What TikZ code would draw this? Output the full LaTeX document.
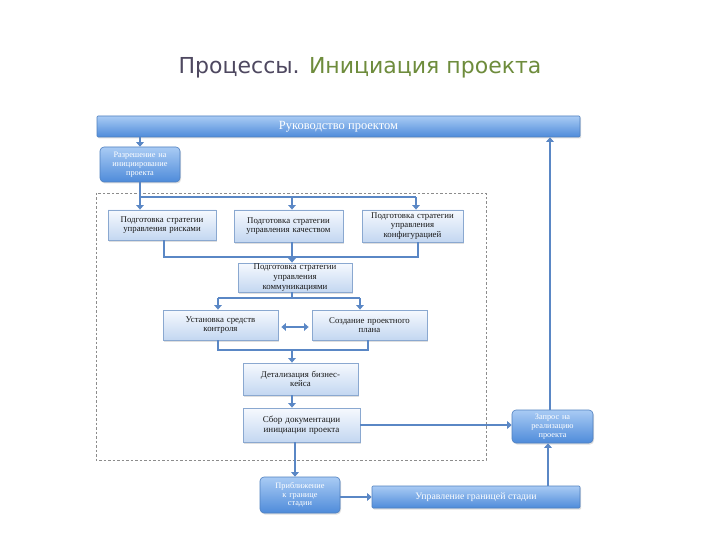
\documentclass[tikz,border=0pt]{standalone}
\usepackage{fontspec}
\setmainfont{Liberation Serif}
\newfontfamily\titlefont{DejaVu Sans}
\usetikzlibrary{arrows.meta,shadows}
\definecolor{ttlgray}{HTML}{4E4860}
\definecolor{ttlgreen}{HTML}{6E8C3C}
\definecolor{arrblue}{HTML}{5A87C5}
\definecolor{lbtop}{HTML}{F6F9FE}
\definecolor{lbbot}{HTML}{C3D7F1}
\definecolor{lbdraw}{HTML}{8AA8D0}
\definecolor{dbtop}{HTML}{A9CBF4}
\definecolor{dbbot}{HTML}{4E8BDA}
\definecolor{dbdraw}{HTML}{4F80C0}
\tikzset{
  lightbox/.style={draw=lbdraw, line width=0.8pt, top color=lbtop, bottom color=lbbot,
    inner sep=1pt, align=center, font=\fontsize{8.8}{9.6}\selectfont, text=black!90,
    drop shadow={opacity=0.25, shadow xshift=1pt, shadow yshift=-1.5pt}},
  darkbox/.style={draw=dbdraw, line width=0.6pt, top color=dbtop, bottom color=dbbot,
    rounded corners=4pt, inner sep=1pt, align=center, font=\fontsize{8.3}{8.8}\selectfont, text=white,
    drop shadow={opacity=0.25, shadow xshift=1pt, shadow yshift=-1.5pt}},
  conn/.style={draw=arrblue, line width=2.2pt},
  arr/.style={conn, -{Triangle[length=4.5pt,width=7.5pt]}},
  dblarr/.style={conn, {Triangle[length=4.5pt,width=7.5pt]}-{Triangle[length=4.5pt,width=7.5pt]}},
}
\begin{document}
\begin{tikzpicture}[x=1pt,y=-1pt]
\useasboundingbox[fill=white] (0,0) rectangle (720,540);

\node[font=\titlefont\fontsize{22}{24}\selectfont, inner sep=0pt] (title) at (360,68)
  {\textcolor{ttlgray}{Процессы.} \textcolor{ttlgreen}{Инициация проекта}};

% dashed frame
\draw[draw=black!45, line width=0.9pt, dash pattern=on 2.5pt off 2pt] (96,193) rectangle (486,460);

% nodes
\node[darkbox, rounded corners=1pt, minimum width=483pt, minimum height=21pt, font=\fontsize{12.5}{13}\selectfont] (top) at (338.5,126.5) {Руководство проектом};
\node[darkbox, minimum width=80pt, minimum height=35pt, text width=76pt] (auth) at (140,164.5) {Разрешение на\\инициирование\\проекта};

\node[lightbox, minimum width=108pt, minimum height=30pt, text width=104pt] (risk) at (162,225) {Подготовка стратегии\\управления рисками\\[4pt]};
\node[lightbox, minimum width=109pt, minimum height=32pt, text width=105pt] (qual) at (288.5,226) {Подготовка стратегии\\управления качеством\\[4pt]};
\node[lightbox, minimum width=101pt, minimum height=32pt, text width=97pt] (conf) at (412.5,226) {Подготовка стратегии\\управления\\конфигурацией};
\node[lightbox, minimum width=114pt, minimum height=29pt, text width=110pt] (comm) at (295,277.5) {Подготовка стратегии\\управления\\коммуникациями};
\node[lightbox, minimum width=115pt, minimum height=30pt, text width=111pt] (ctrl) at (220.5,325) {Установка средств\\контроля\\[4pt]};
\node[lightbox, minimum width=115pt, minimum height=30pt, text width=111pt] (plan) at (369.5,325) {Создание проектного\\плана\\[4pt]};
\node[lightbox, minimum width=115pt, minimum height=32pt, text width=111pt] (det) at (300.5,379) {Детализация бизнес-\\кейса\\[4pt]};
\node[lightbox, minimum width=117pt, minimum height=34pt, text width=113pt, font=\fontsize{9}{10}\selectfont] (doc) at (301.5,425) {Сбор документации\\инициации проекта\\[4pt]};

\node[darkbox, minimum width=81pt, minimum height=33pt, text width=77pt] (req) at (552.5,426.5) {Запрос на\\реализацию\\проекта};
\node[darkbox, minimum width=80pt, minimum height=36pt, text width=76pt] (near) at (300,495) {Приближение\\к границе\\стадии};
\node[darkbox, rounded corners=1pt, minimum width=208pt, minimum height=22pt, font=\fontsize{9.8}{10}\selectfont] (wide) at (476,497) {Управление границей стадии};

% helper coordinates
\coordinate (s1) at (140,197); \coordinate (s2) at (292,197); \coordinate (s3) at (416,197);
\coordinate (m1) at (164,257); \coordinate (m2) at (292,257); \coordinate (m3) at (418,257);
\coordinate (n1) at (218,298); \coordinate (n2) at (292,298); \coordinate (n3) at (360,298);
\coordinate (p1) at (218,350); \coordinate (p2) at (292,350); \coordinate (p3) at (368,350);
\coordinate (rx) at (550,0); \coordinate (wx) at (548,0); \coordinate (dx) at (295,0);

% connectors
\draw[arr] (top.south -| auth) -- (auth.north);
\draw[conn] (auth.south) -- (s1) -- (s3);
\draw[arr] (s1) -- (s1 |- risk.north);
\draw[arr] (s2) -- (s2 |- qual.north);
\draw[arr] (s3) -- (s3 |- conf.north);

\draw[conn] (risk.south -| m1) -- (m1) -- (m3) -- (conf.south -| m3);
\draw[conn] (qual.south -| m2) -- (m2);
\draw[arr] (m2) -- (comm.north -| m2);

\draw[conn] (comm.south -| n2) -- (n2);
\draw[conn] (n1) -- (n3);
\draw[arr] (n1) -- (n1 |- ctrl.north);
\draw[arr] (n3) -- (n3 |- plan.north);

\draw[dblarr] ([xshift=3pt,yshift=-2pt]ctrl.east) -- ([xshift=-3pt,yshift=-2pt]plan.west);

\draw[conn] (ctrl.south -| p1) -- (p1) -- (p3) -- (plan.south -| p3);
\draw[arr] (p2) -- (det.north -| p2);
\draw[arr] (det.south -| p2) -- (doc.north -| p2);

\draw[arr] (doc.east) -- (doc.east -| req.west);
\draw[arr] (req.north -| rx) -- (top.south -| rx);
\draw[arr] (doc.south -| dx) -- (near.north -| dx);
\draw[arr] (near.east |- wide.west) -- (wide.west);
\draw[arr] (wide.north -| wx) -- (req.south -| wx);
\end{tikzpicture}
\end{document}
